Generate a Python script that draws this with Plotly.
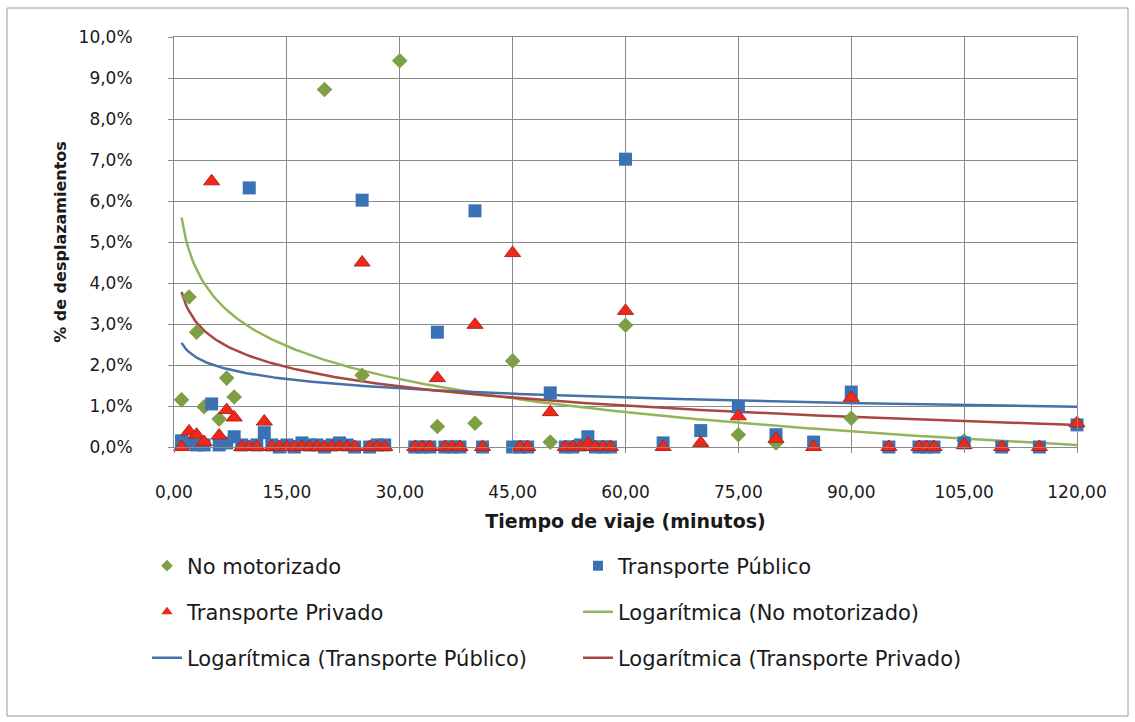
import numpy as np
import plotly.graph_objects as go

# Travel time (minutes) and share of trips (%) for each transport mode
x_no_motorizado = [1, 2, 3, 4, 6, 7, 8, 20, 25, 30, 35, 40, 45, 50, 60, 75, 80, 90, 105]
y_no_motorizado = [1.15, 3.66, 2.8, 0.98, 0.68, 1.68, 1.22, 8.72, 1.75, 9.42, 0.5, 0.58, 2.1, 0.12, 2.97,
                   0.3, 0.1, 0.7, 0.15]

x_publico = [1, 2, 3, 4, 5, 6, 7, 8, 9, 10, 11, 12, 13, 14, 15, 16, 17, 18, 19, 20, 21, 22, 23, 24, 25,
             26, 27, 28, 32, 33, 34, 35, 36, 37, 38, 40, 41, 45, 46, 47, 50, 52, 53, 54, 55, 56, 57, 58,
             60, 65, 70, 75, 80, 85, 90, 95, 99, 100, 101, 105, 110, 115, 120]
y_publico = [0.15, 0.1, 0.05, 0.05, 1.05, 0.05, 0.1, 0.25, 0.05, 6.32, 0.05, 0.35, 0.05, 0.0, 0.05, 0.0,
             0.1, 0.05, 0.05, 0.0, 0.05, 0.1, 0.05, 0.0, 6.02, 0.0, 0.05, 0.05, 0.0, 0.0, 0.0, 2.8, 0.0,
             0.0, 0.0, 5.76, 0.0, 0.0, 0.0, 0.0, 1.32, 0.0, 0.0, 0.05, 0.25, 0.0, 0.0, 0.0, 7.02, 0.1,
             0.4, 0.98, 0.3, 0.12, 1.34, 0.0, 0.0, 0.0, 0.0, 0.1, 0.0, 0.0, 0.54]

x_privado = [1, 2, 3, 4, 5, 6, 7, 8, 9, 10, 11, 12, 13, 14, 15, 16, 17, 18, 19, 20, 21, 22, 23, 24, 25,
             26, 27, 28, 32, 33, 34, 35, 36, 37, 38, 40, 41, 45, 46, 47, 50, 52, 53, 54, 55, 56, 57, 58,
             60, 65, 70, 75, 80, 85, 90, 95, 99, 100, 101, 105, 110, 115, 120]
y_privado = [0.0, 0.38, 0.3, 0.12, 6.48, 0.28, 0.9, 0.72, 0.0, 0.0, 0.0, 0.62, 0.0, 0.0, 0.0, 0.0, 0.0,
             0.0, 0.0, 0.0, 0.0, 0.0, 0.0, 0.0, 4.5, 0.0, 0.0, 0.0, 0.0, 0.0, 0.0, 1.68, 0.0, 0.0, 0.0,
             2.98, 0.0, 4.73, 0.0, 0.0, 0.85, 0.0, 0.0, 0.0, 0.08, 0.0, 0.0, 0.0, 3.32, 0.0, 0.1, 0.75,
             0.2, 0.0, 1.2, 0.0, 0.0, 0.0, 0.0, 0.05, 0.0, 0.0, 0.58]

# Logarithmic trend lines y = a*ln(x) + b  (a, b), drawn over the full time span
trend_no_motorizado = (-1.16, 5.60)
trend_publico = (-0.326, 2.54)
trend_privado = (-0.677, 3.78)
trend_span = (1, 120)

x_ticks = [0, 15, 30, 45, 60, 75, 90, 105, 120]
y_ticks = [0, 1, 2, 3, 4, 5, 6, 7, 8, 9, 10]
x_tick_labels = ["0,00", "15,00", "30,00", "45,00", "60,00", "75,00", "90,00", "105,00", "120,00"]
y_tick_labels = ["0,0%", "1,0%", "2,0%", "3,0%", "4,0%", "5,0%", "6,0%", "7,0%", "8,0%", "9,0%", "10,0%"]

GREEN = "#7f9f45"
BLUE = "#3b72b3"
RED = "#f0281a"
GREEN_LINE = "#93b55a"
BLUE_LINE = "#4670a8"
RED_LINE = "#a9463f"
FONT = "DejaVu Sans"

fig = go.Figure()

diamond = dict(symbol="diamond", size=12, color=GREEN, line=dict(width=0))
square = dict(symbol="square", size=13, color=BLUE, line=dict(width=0))
triangle = dict(symbol="triangle-up", size=14, color=RED, line=dict(width=1, color="#b52316"))


def trend_curve(coefs):
    a, b = coefs
    xt = np.linspace(trend_span[0], trend_span[1], 400)
    return xt, a * np.log(xt) + b


# Trend lines drawn beneath the markers
for coefs, col in [(trend_no_motorizado, GREEN_LINE),
                   (trend_publico, BLUE_LINE),
                   (trend_privado, RED_LINE)]:
    xt, yt = trend_curve(coefs)
    fig.add_trace(go.Scatter(x=xt, y=yt, mode="lines", line=dict(color=col, width=2.5),
                             showlegend=False, hoverinfo="skip", cliponaxis=False))

fig.add_trace(go.Scatter(x=x_no_motorizado, y=y_no_motorizado, mode="markers", marker=diamond,
                         showlegend=False, cliponaxis=False))
fig.add_trace(go.Scatter(x=x_publico, y=y_publico, mode="markers", marker=square,
                         showlegend=False, cliponaxis=False))
fig.add_trace(go.Scatter(x=x_privado, y=y_privado, mode="markers", marker=triangle,
                         showlegend=False, cliponaxis=False))

# Legend entries (three rows of two)
legend_items = [
    ("No motorizado", "markers", dict(symbol="diamond", size=9, color=GREEN), None, "legend"),
    ("Transporte Público", "markers", dict(symbol="square", size=10, color=BLUE), None, "legend"),
    ("Transporte Privado", "markers", dict(symbol="triangle-up", size=10, color=RED), None, "legend2"),
    ("Logarítmica (No motorizado)", "lines", None, dict(color=GREEN_LINE, width=2.5), "legend2"),
    ("Logarítmica (Transporte Público)", "lines", None, dict(color=BLUE_LINE, width=2.5), "legend3"),
    ("Logarítmica (Transporte Privado)", "lines", None, dict(color=RED_LINE, width=2.5), "legend3"),
]
for name, mode, mk, ln, lg in legend_items:
    kw = dict(x=[None], y=[None], mode=mode, name=name, legend=lg, showlegend=True)
    if mk:
        kw["marker"] = mk
    if ln:
        kw["line"] = ln
    fig.add_trace(go.Scatter(**kw))

W, H = 1135, 722
L, R, T, B = 174, 58, 37, 275
pw, ph = W - L - R, H - T - B


def px_x(p):
    return (p - L) / pw


def px_y(p):
    return (H - B - p) / ph


legend_common = dict(orientation="h", xanchor="left", yanchor="middle", x=px_x(147),
                     itemwidth=30, entrywidth=386, entrywidthmode="pixels",
                     font=dict(family=FONT, size=21, color="#1a1a1a"),
                     bgcolor="rgba(0,0,0,0)", traceorder="normal")

fig.update_layout(
    width=W, height=H,
    margin=dict(l=L, r=R, t=T, b=B),
    paper_bgcolor="white", plot_bgcolor="white",
    font=dict(family=FONT, size=17, color="#1a1a1a"),
    legend=dict(**legend_common, y=px_y(566)),
    legend2=dict(**legend_common, y=px_y(612)),
    legend3=dict(**legend_common, y=px_y(658)),
    xaxis=dict(range=[0, 120], tickmode="array", tickvals=x_ticks, ticktext=x_tick_labels,
               showgrid=True, gridcolor="#8a8a8a", gridwidth=1,
               showline=True, linecolor="#8a8a8a", mirror=True,
               ticks="outside", ticklen=5, tickcolor="#8a8a8a",
               ticklabelstandoff=25, zeroline=False,
               title=dict(text="<b>Tiempo de viaje (minutos)</b>", standoff=13,
                          font=dict(family=FONT, size=19))),
    yaxis=dict(range=[0, 10], tickmode="array", tickvals=y_ticks, ticktext=y_tick_labels,
               showgrid=True, gridcolor="#8a8a8a", gridwidth=1,
               showline=True, linecolor="#8a8a8a", mirror=True,
               ticks="outside", ticklen=5, tickcolor="#8a8a8a",
               ticklabelstandoff=32, zeroline=False,
               title=dict(text="<b>% de desplazamientos</b>", standoff=7,
                          font=dict(family=FONT, size=16))),
)

# Chart frame around the whole figure
fig.add_shape(type="rect", xref="paper", yref="paper",
              x0=px_x(7), x1=px_x(1128), y0=px_y(716), y1=px_y(8),
              line=dict(color="#9a9a9a", width=1), fillcolor="rgba(0,0,0,0)", layer="below")

fig.write_html("out.html")
